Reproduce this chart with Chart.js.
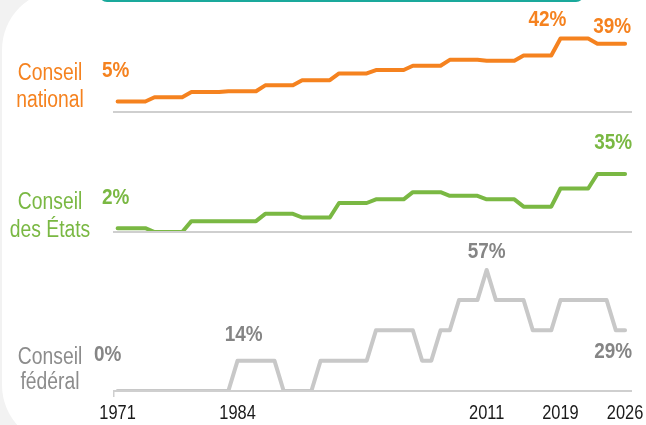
<!DOCTYPE html>
<html><head><meta charset="utf-8">
<script src="https://cdn.jsdelivr.net/npm/chart.js@4/dist/chart.umd.min.js"></script>
<style>
html,body{margin:0;padding:0;background:#f2f2f2;width:646px;height:425px;overflow:hidden;}
#card{position:absolute;left:2px;top:-10px;width:720px;height:455px;background:#fff;border-radius:60px;}
#tab{position:absolute;left:99px;top:-30px;width:485px;height:32px;box-sizing:border-box;border:2px solid #1aa99c;border-radius:8px;background:#fff;}
#wrap{position:absolute;left:0;top:0;width:646px;height:425px;}
</style></head>
<body><div id="card"></div><div id="tab"></div>
<div id="wrap"><canvas id="c" width="646" height="425"></canvas></div>
<script>
// ---- data ----
const years = [1971,1972,1973,1974,1975,1976,1977,1978,1979,1980,1981,1982,1983,1984,1985,1986,1987,1988,1989,1990,1991,1992,1993,1994,1995,1996,1997,1998,1999,2000,2001,2002,2003,2004,2005,2006,2007,2008,2009,2010,2011,2012,2013,2014,2015,2016,2017,2018,2019,2020,2021,2022,2023,2024,2025,2026];
// Conseil national (% women)
const conseilNational = [5,5,5,5, 7.5,7.5,7.5,7.5, 10.5,10.5,10.5,10.5, 11,11,11,11, 14.5,14.5,14.5,14.5, 17.5,17.5,17.5,17.5, 21.5,21.5,21.5,21.5, 23.5,23.5,23.5,23.5, 26,26,26,26, 29.5,29.5,29.5,29.5, 29,29,29,29, 32,32,32,32, 42,42,42,42, 39,39,39,39];
// Conseil des États (% women)
const conseilEtats = [2.3,2.3,2.3,2.3, 0,0,0,0, 6.5,6.5,6.5,6.5, 6.5,6.5,6.5,6.5, 10.9,10.9,10.9,10.9, 8.7,8.7,8.7,8.7, 17.4,17.4,17.4,17.4, 19.6,19.6,19.6,19.6, 23.9,23.9,23.9,23.9, 21.7,21.7,21.7,21.7, 19.6,19.6,19.6,19.6, 15.2,15.2,15.2,15.2, 26.1,26.1,26.1,26.1, 34.8,34.8,34.8,34.8];
// Conseil fédéral (% women)
const conseilFederal = [0,0,0,0,0,0,0,0,0,0,0,0,0, 14.3,14.3,14.3,14.3,14.3, 0,0,0,0, 14.3,14.3,14.3,14.3,14.3,14.3, 28.6,28.6,28.6,28.6,28.6, 14.3,14.3, 28.6,28.6, 42.9,42.9,42.9, 57.1, 42.9,42.9,42.9,42.9, 28.6,28.6,28.6, 42.9,42.9,42.9,42.9,42.9,42.9, 28.6,28.6];
const tickYears = [1971,1984,2011,2019,2026];
const panelNames = [["Conseil","national"],["Conseil","des États"],["Conseil","fédéral"]];
const labelYears = [[1971,2019,2026],[1971,2026],[1971,1984,2011,2026]];

// ---- styles ----
const FONT = "'Liberation Sans',Arial,sans-serif";
const COLORS = ['#f5821f','#7ab843','#c8c8c8'];
const TEXTCOL = ['#f5821f','#7ab843','#858585'];
const NAMECOL = ['#f5821f','#7ab843','#8c8c8c'];
const labelOffsets = [
  [[-2,-31],[-13,-19],[-13,-17]],
  [[-2,-30],[-12,-31]],
  [[-10,-36],[6,-26],[0,-18],[-12,22]]
];
const nameOffsets = [[-38,-11],[-29,-1],[-33,-8]];

const seriesList = [conseilNational, conseilEtats, conseilFederal];
const axisIds = ['yN','yS','yF'];

function narrowText(ctx, text, x, y, sx){
  ctx.save(); ctx.translate(x,y); ctx.scale(sx,1); ctx.fillText(text,0,0); ctx.restore();
}

const decor = {
  id:'decor',
  afterDatasetsDraw(chart){
    const ctx = chart.ctx, ca = chart.chartArea;
    ctx.save();
    // baselines
    ctx.strokeStyle = '#cfcfcf'; ctx.lineWidth = 2;
    axisIds.forEach(id=>{
      const b = Math.round(chart.scales[id].bottom);
      ctx.beginPath(); ctx.moveTo(ca.left, b); ctx.lineTo(ca.right, b); ctx.stroke();
    });
    // small hook at the start of the bottom axis
    const bb = Math.round(chart.scales.yF.bottom);
    ctx.lineWidth = 1.5;
    ctx.beginPath(); ctx.moveTo(ca.left+0.75, bb); ctx.lineTo(ca.left+0.75, bb+6); ctx.stroke();
    // panel names
    ctx.textAlign = 'center'; ctx.textBaseline = 'middle';
    ctx.font = "23px " + FONT;
    panelNames.forEach((lines,i)=>{
      const b = chart.scales[axisIds[i]].bottom;
      ctx.fillStyle = NAMECOL[i];
      narrowText(ctx, lines[0], 50, b + nameOffsets[i][0], 0.84);
      narrowText(ctx, lines[1], 50, b + nameOffsets[i][1], 0.84);
    });
    // value labels
    ctx.font = "bold 22px " + FONT;
    labelYears.forEach((ys,di)=>{
      const meta = chart.getDatasetMeta(di);
      ctx.fillStyle = TEXTCOL[di];
      ys.forEach((yr,k)=>{
        const idx = years.indexOf(yr);
        const pt = meta.data[idx];
        const v = seriesList[di][idx];
        const off = labelOffsets[di][k];
        narrowText(ctx, Math.round(v)+'%', pt.x + off[0], pt.y + off[1], 0.86);
      });
    });
    // x tick labels
    const xs = chart.scales.x;
    ctx.font = "20px " + FONT;
    ctx.fillStyle = '#1a1a1a';
    tickYears.forEach(t=>{
      narrowText(ctx, String(t), xs.getPixelForValue(t), xs.top + 22, 0.82);
    });
    ctx.restore();
  }
};

const mk = (arr)=>years.map((y,i)=>({x:y,y:arr[i]}));
const dsBase = {pointRadius:0, borderWidth:4, tension:0, borderCapStyle:'round', borderJoinStyle:'round', fill:false};

new Chart(document.getElementById('c'), {
  type:'line',
  data:{datasets:[
    Object.assign({label:'Conseil national', data:mk(conseilNational), yAxisID:'yN', borderColor:COLORS[0]}, dsBase),
    Object.assign({label:'Conseil des États', data:mk(conseilEtats), yAxisID:'yS', borderColor:COLORS[1]}, dsBase),
    Object.assign({label:'Conseil fédéral', data:mk(conseilFederal), yAxisID:'yF', borderColor:COLORS[2]}, dsBase)
  ]},
  options:{
    responsive:false, animation:false, devicePixelRatio:1,
    layout:{padding:{left:113, right:14, top:10, bottom:0}},
    plugins:{legend:{display:false}, tooltip:{enabled:false}},
    scales:{
      x:{type:'linear', min:1970.5, max:2026.75,
         afterBuildTicks:s=>{ s.ticks = tickYears.map(v=>({value:v})); },
         afterFit:s=>{ s.height = 34; },
         ticks:{display:false},
         grid:{display:false, drawTicks:false}, border:{display:false}},
      yN:{type:'linear', position:'left', stack:'p', stackWeight:102, weight:3, min:-1.2, max:58.8, display:false},
      yS:{type:'linear', position:'left', stack:'p', stackWeight:120, weight:2, min:0, max:72, display:false},
      yF:{type:'linear', position:'left', stack:'p', stackWeight:159, weight:1, min:0, max:75, display:false}
    }
  },
  plugins:[decor]
});
</script>
</body></html>
